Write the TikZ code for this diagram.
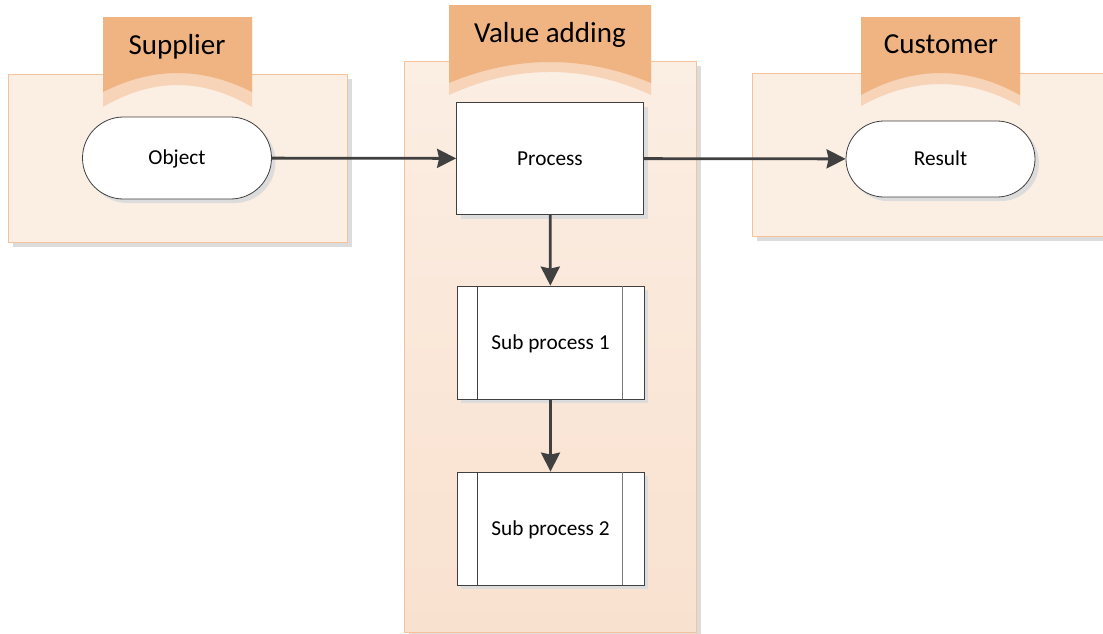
\documentclass[tikz,border=0pt]{standalone}
\usepackage{fontspec}
\setmainfont{Carlito}
\usetikzlibrary{arrows.meta,shadows}
\definecolor{panelfill}{HTML}{FBEEE3}
\definecolor{panelfillbot}{HTML}{F9E1CF}
\definecolor{panelline}{HTML}{F5C29C}
\definecolor{tabdark}{HTML}{F0B482}
\definecolor{tablight}{HTML}{F7D4B8}
\definecolor{ink}{HTML}{404040}
\definecolor{shade}{HTML}{DCDCDC}
\tikzset{
  softshadow/.style={drop shadow={shadow xshift=4pt, shadow yshift=-4pt, fill=shade, opacity=1}},
  panel/.style={rectangle, draw=panelline, line width=1pt, fill=panelfill, inner sep=0pt, anchor=north west, softshadow},
  tabtext/.style={font=\fontsize{29}{34}\selectfont, text=black, text height=18.7pt, text depth=0pt},
  nodetext/.style={font=\fontsize{21.3}{25}\selectfont, text height=13.7pt, text depth=0pt},
  terminal/.style={rectangle, draw=ink, line width=0.8pt, fill=white, minimum width=189pt,
    nodetext, softshadow},
  procbox/.style={rectangle, draw=ink, line width=0.8pt, fill=white, minimum width=187pt,
    minimum height=112pt, nodetext, softshadow},
  flow/.style={draw=ink, line width=2.8pt, -{Stealth[length=19pt,width=19pt,inset=2pt]}},
}
\begin{document}
\begin{tikzpicture}[x=1pt,y=-1pt]
\useasboundingbox (0,0) rectangle (1103,633);

% swimlane panels
\node[panel, minimum width=339pt, minimum height=168pt] (supPanel) at (8,74) {};
\node[panel, minimum width=292pt, minimum height=571pt, top color=panelfill, bottom color=panelfillbot] (valPanel) at (404,61) {};
\node[panel, minimum width=360pt, minimum height=163pt] (cusPanel) at (752,73) {};

% header tabs with curved lower edge
\fill[tablight] (103,17) -- (252,17) -- (252,107) .. controls (202,77.7) and (153,77.7) .. (103,107) -- cycle;
\fill[tabdark]  (103,17) -- (252,17) -- (252,92)  .. controls (202,66.7) and (153,66.7) .. (103,92) -- cycle;
\fill[tablight] (449,5) -- (651,5) -- (651,95) .. controls (584,64.3) and (516,64.3) .. (449,95) -- cycle;
\fill[tabdark]  (449,5) -- (651,5) -- (651,83) .. controls (584,55) and (516,55) .. (449,83) -- cycle;
\fill[tablight] (861,17) -- (1020,17) -- (1020,106) .. controls (967,76.7) and (914,76.7) .. (861,106) -- cycle;
\fill[tabdark]  (861,17) -- (1020,17) -- (1020,95)  .. controls (967,65.7) and (914,65.7) .. (861,95) -- cycle;

\node[tabtext] (supTitle) at (177,45) {Supplier};
\node[tabtext] (valTitle) at (550,33) {Value adding};
\node[tabtext] (cusTitle) at (941,44) {Customer};

% flow elements
\node[terminal, minimum height=82pt, rounded corners=41pt] (object) at (177,158) {Object};
\node[procbox] (process) at (550,158.5) {Process};
\node[terminal, minimum height=76pt, rounded corners=38pt] (result) at (940.5,159) {Result};
\node[procbox, minimum height=113pt] (sub1) at (550.5,342.5) {Sub process 1};
\node[procbox, minimum height=113pt] (sub2) at (550.5,528.5) {Sub process 2};

% predefined-process side bars
\foreach \n in {sub1,sub2}{
  \draw[ink, line width=0.8pt] ([xshift=21pt]\n.north west) -- ([xshift=21pt]\n.south west);
  \draw[ink!70, line width=0.8pt] ([xshift=-22pt]\n.north east) -- ([xshift=-22pt]\n.south east);
}

% connectors
\draw[flow] (object) -- (process);
\draw[flow] (process) -- (result);
\draw[flow] (process) -- (sub1);
\draw[flow] (sub1) -- (sub2);
\end{tikzpicture}
\end{document}
